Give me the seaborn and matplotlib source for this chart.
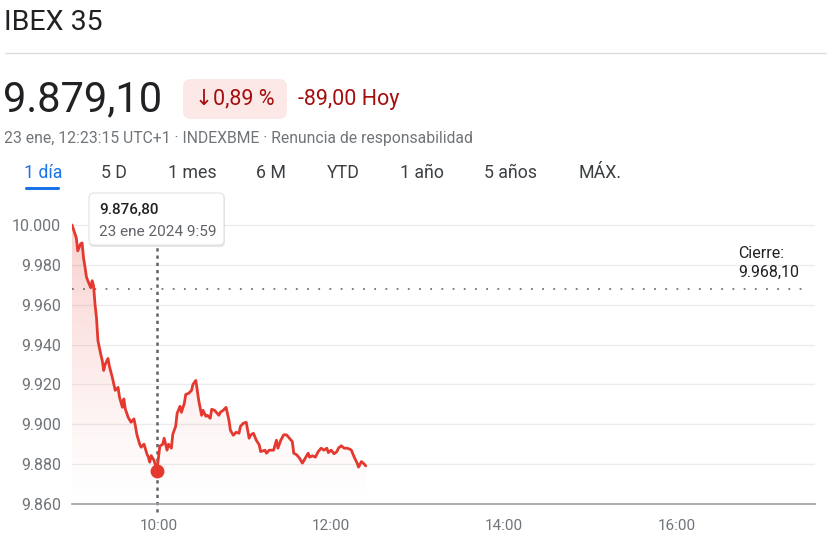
import pandas as pd
import numpy as np
import matplotlib.pyplot as plt
import matplotlib.dates as mdates
import matplotlib.patches as mpatches
from matplotlib.lines import Line2D
from matplotlib.transforms import IdentityTransform
import seaborn as sns

# IBEX 35 intraday, 23 ene 2024
day = '2024-01-23'
times = ['09:00', '09:03', '09:04', '09:06', '09:07', '09:08', '09:09', '09:10', '09:11', '09:13',
         '09:14', '09:15', '09:16', '09:17', '09:18', '09:20', '09:21', '09:22', '09:23', '09:25',
         '09:26', '09:28', '09:30', '09:32', '09:33', '09:35', '09:36', '09:37', '09:39', '09:41',
         '09:43', '09:44', '09:45', '09:47', '09:48', '09:50', '09:52', '09:53', '09:54', '09:55',
         '09:57', '09:59', '10:01', '10:03', '10:04', '10:06', '10:07', '10:09', '10:10', '10:12',
         '10:13', '10:15', '10:16', '10:18', '10:19', '10:21', '10:23', '10:24', '10:26', '10:28',
         '10:30', '10:31', '10:33', '10:34', '10:36', '10:37', '10:39', '10:42', '10:43', '10:45',
         '10:47', '10:49', '10:50', '10:52', '10:54', '10:56', '10:57', '10:59', '11:01', '11:03',
         '11:04', '11:06', '11:08', '11:10', '11:11', '11:14', '11:15', '11:17', '11:20', '11:22',
         '11:23', '11:25', '11:27', '11:29', '11:31', '11:33', '11:34', '11:36', '11:38', '11:40',
         '11:42', '11:44', '11:45', '11:47', '11:49', '11:51', '11:53', '11:55', '11:57', '11:58',
         '12:00', '12:02', '12:04', '12:05', '12:07', '12:09', '12:11', '12:13', '12:14', '12:16',
         '12:18', '12:19', '12:21', '12:23', '12:24']
prices = [10000.0, 9993.5, 9987.0, 9990.5, 9991.0, 9983.5, 9979.0, 9974.0, 9972.0, 9968.5,
          9972.0, 9969.3, 9960.0, 9953.5, 9942.0, 9935.0, 9932.0, 9927.0, 9930.0, 9933.0,
          9929.0, 9923.5, 9917.0, 9918.5, 9913.5, 9908.5, 9912.7, 9907.7, 9903.5, 9901.0,
          9902.7, 9899.3, 9895.0, 9890.0, 9888.5, 9890.0, 9885.2, 9883.5, 9881.0, 9884.3,
          9881.8, 9876.8, 9889.0, 9890.0, 9893.0, 9887.0, 9890.0, 9888.0, 9895.0, 9899.0,
          9905.5, 9909.0, 9906.0, 9910.5, 9915.0, 9915.5, 9917.0, 9920.0, 9922.0, 9912.0,
          9904.5, 9907.0, 9904.0, 9904.5, 9903.0, 9907.5, 9907.0, 9904.5, 9906.0, 9907.0,
          9908.5, 9902.0, 9897.0, 9894.5, 9896.0, 9895.5, 9899.0, 9900.5, 9901.0, 9893.0,
          9894.5, 9895.5, 9892.0, 9889.7, 9886.3, 9887.0, 9885.5, 9887.0, 9887.0, 9892.0,
          9888.0, 9892.0, 9894.7, 9894.7, 9893.0, 9891.3, 9885.5, 9884.7, 9883.0, 9880.5,
          9883.0, 9885.5, 9883.5, 9884.2, 9883.5, 9886.3, 9888.0, 9887.0, 9888.0, 9885.8,
          9887.0, 9885.2, 9886.3, 9888.0, 9889.2, 9888.0, 9888.0, 9887.5, 9887.0, 9883.5,
          9880.5, 9878.5, 9881.3, 9880.0, 9879.1]

prev_close = 9968.10
hover_time = '09:59'
hover_price = 9876.80
y_ticks = [9860, 9880, 9900, 9920, 9940, 9960, 9980, 10000]
x_ticks = ['10:00', '12:00', '14:00', '16:00']
tabs = ['1 día', '5 D', '1 mes', '6 M', 'YTD', '1 año', '5 años', 'MÁX.']
tab_x = [24, 101, 168, 256, 327, 400, 484, 579]

RED = '#e5392f'
DARK_RED = '#a50e0e'
GRAY = '#70757a'
INK = '#202124'

sns.set_style("white")
plt.rcParams['font.family'] = ['Roboto', 'DejaVu Sans']

W, H = 828, 543
fig = plt.figure(figsize=(W / 100, H / 100), dpi=100)
ax = fig.add_axes([72 / W, 39 / H, (815 - 72) / W, (504 - 205) / H])


def fx(x):
    return x / W


def fy(y):
    return 1 - y / H


t = pd.to_datetime(day + ' ' + pd.Series(times))
df = pd.DataFrame({'time': t, 'price': prices})

x0 = pd.Timestamp(day + ' 09:00')
x1 = pd.Timestamp(day + ' 17:36')
y0, y1 = 9860, 10010

# gradient fill under the line
poly = ax.fill_between(df['time'], df['price'], y0, facecolor='none', edgecolor='none')
grad = np.zeros((256, 1, 4))
grad[:, 0, :3] = [229 / 255, 57 / 255, 47 / 255]
grad[:, 0, 3] = np.linspace(0.0, 0.32, 256) ** 1.2
im = ax.imshow(grad, extent=[mdates.date2num(x0), mdates.date2num(x1), y0, y1],
               aspect='auto', origin='lower', zorder=1)
im.set_clip_path(poly.get_paths()[0], transform=ax.transData)

sns.lineplot(data=df, x='time', y='price', color=RED, linewidth=2.0, ax=ax, zorder=3)

# previous close
ax.axhline(prev_close, xmin=0, xmax=0.99, color=GRAY, linewidth=1.3,
           linestyle=(0, (1, 5.2)), zorder=2)

# hover marker
ht = pd.Timestamp(day + ' ' + hover_time)
ax.plot([ht, ht], [9856, 9989], color='#5f6368', linewidth=1.8,
        linestyle=(0, (1.3, 1.6)), clip_on=False, zorder=2)
ax.plot(ht, hover_price, 'o', color=RED, markersize=9, zorder=4)

ax.set_xlim(x0, x1)
ax.set_ylim(y0, y1)

ax.set_yticks(y_ticks)
ax.set_yticklabels([f"{v:,.0f}".replace(',', '.') for v in y_ticks])
ax.set_xticks([pd.Timestamp(day + ' ' + s) for s in x_ticks])
ax.set_xticklabels(x_ticks)
ax.grid(axis='y', color='#ececec', linewidth=1)
ax.set_axisbelow(True)
ax.tick_params(axis='y', length=0, pad=8, labelsize=11.5, labelcolor=GRAY)
ax.tick_params(axis='x', length=4, width=2, color=GRAY, pad=7, labelsize=11, labelcolor=GRAY)
ax.set_xlabel('')
ax.set_ylabel('')
for s in ['top', 'right', 'left']:
    ax.spines[s].set_visible(False)
ax.spines['bottom'].set_color('#9aa0a6')
ax.spines['bottom'].set_linewidth(1.2)

fig.text(fx(738), fy(254), 'Cierre:', fontsize=11.5, color=INK, va='center')
fig.text(fx(738), fy(272), '9.968,10', fontsize=11.5, color=INK, va='center')

# header
fig.text(fx(4), fy(22), 'IBEX 35', fontsize=20.5, color=INK, va='center')
fig.add_artist(Line2D([fx(5), 1], [fy(53), fy(53)], color='#dadce0', linewidth=1))
fig.text(fx(3), fy(100), '9.879,10', fontsize=30, color=INK, va='center')
fig.add_artist(mpatches.FancyBboxPatch((183, H - 119), 104, 40,
                                       boxstyle='round,pad=0,rounding_size=8',
                                       facecolor='#fce8e6', edgecolor='none',
                                       transform=IdentityTransform()))
fig.text(fx(195), fy(99), '↓0,89 %', fontsize=15.5, color=DARK_RED, va='center')
fig.text(fx(298), fy(99), '-89,00 Hoy', fontsize=15.5, color=DARK_RED, va='center')
fig.text(fx(4), fy(139), '23 ene, 12:23:15 UTC+1 · INDEXBME · Renuncia de responsabilidad',
         fontsize=11.3, color=GRAY, va='center')

for label, xp in zip(tabs, tab_x):
    fig.text(fx(xp), fy(173), label, fontsize=12.8, va='center',
             color='#1a73e8' if label == '1 día' else '#3c4043')
fig.add_artist(mpatches.FancyBboxPatch((25, H - 190), 35, 3,
                                       boxstyle='round,pad=0,rounding_size=1.5',
                                       facecolor='#1a73e8', edgecolor='none',
                                       transform=IdentityTransform()))

# tooltip
fig.add_artist(mpatches.FancyBboxPatch((89, H - 247), 136, 53,
                                       boxstyle='round,pad=0,rounding_size=5',
                                       facecolor='#000000', alpha=0.10, edgecolor='none',
                                       transform=IdentityTransform()))
fig.add_artist(mpatches.FancyBboxPatch((89, H - 245), 135, 52,
                                       boxstyle='round,pad=0,rounding_size=5',
                                       facecolor='white', edgecolor='#e3e3e3', linewidth=0.8,
                                       transform=IdentityTransform()))
fig.text(fx(99), fy(210), '9.876,80', fontsize=11, color=INK, va='center', fontweight='medium')
fig.text(fx(99), fy(232), '23 ene 2024 9:59', fontsize=11, color='#5f6368', va='center')

fig.savefig('out.png', dpi=100)
plt.close(fig)
